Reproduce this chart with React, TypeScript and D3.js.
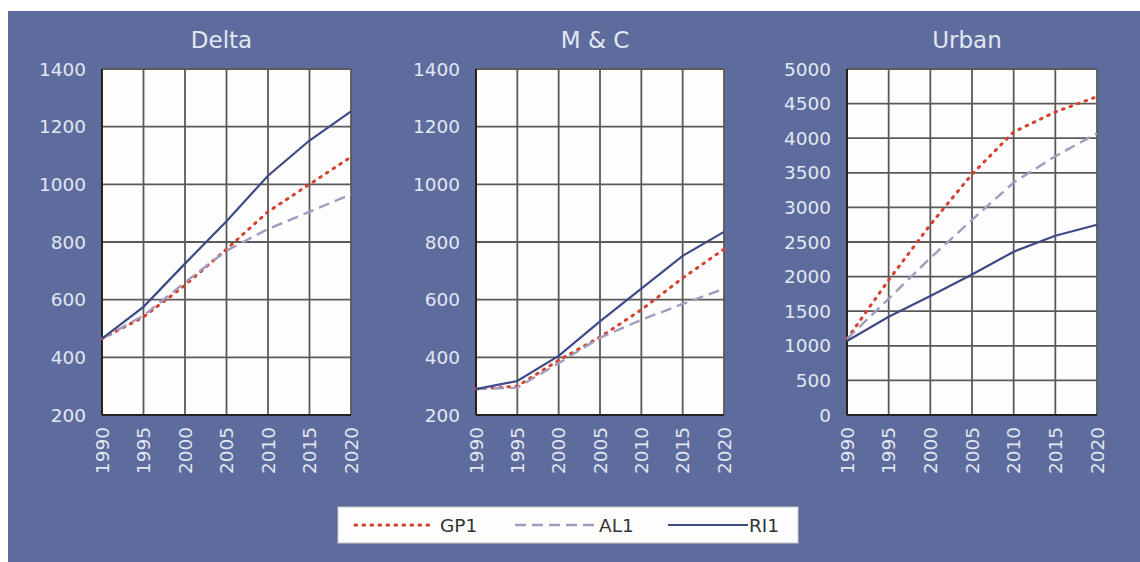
import React from "react";
import * as d3 from "d3";

const years = [1990, 1995, 2000, 2005, 2010, 2015, 2020];

const panelTitles = ["Delta", "M & C", "Urban"];

// Delta
const deltaGP1 = [465, 540, 650, 775, 905, 1000, 1095];
const deltaAL1 = [465, 545, 660, 770, 845, 905, 965];
const deltaRI1 = [465, 575, 725, 872, 1030, 1152, 1253];

// M & C
const mcGP1 = [290, 300, 390, 470, 565, 675, 775];
const mcAL1 = [290, 295, 380, 468, 530, 585, 638];
const mcRI1 = [290, 318, 405, 525, 638, 752, 835];

// Urban
const urbanGP1 = [1100, 1950, 2750, 3480, 4090, 4380, 4600];
const urbanAL1 = [1100, 1680, 2270, 2820, 3360, 3740, 4070];
const urbanRI1 = [1070, 1420, 1720, 2030, 2360, 2590, 2750];

const yTicksSmall = [200, 400, 600, 800, 1000, 1200, 1400];
const yTicksUrban = [0, 500, 1000, 1500, 2000, 2500, 3000, 3500, 4000, 4500, 5000];

const seriesNames = ["GP1", "AL1", "RI1"];
const seriesColors = ["#d6402c", "#a19cbc", "#3d4a86"];
const seriesDash = ["1.6 6.4", "11 6", null];
const seriesWidth = [3, 2.4, 2.2];

const FONT = "'DejaVu Sans', sans-serif";
const BG = "#5d6c9c";
const LABEL = "#e2e7f3";
const TICK_SIZE = 18.5;

type Panel = {
  title: string;
  left: number;
  right: number;
  domain: [number, number];
  ticks: number[];
  series: number[][];
};

const panels: Panel[] = [
  { title: panelTitles[0], left: 102, right: 351, domain: [200, 1400], ticks: yTicksSmall, series: [deltaGP1, deltaAL1, deltaRI1] },
  { title: panelTitles[1], left: 476, right: 724, domain: [200, 1400], ticks: yTicksSmall, series: [mcGP1, mcAL1, mcRI1] },
  { title: panelTitles[2], left: 847, right: 1097, domain: [0, 5000], ticks: yTicksUrban, series: [urbanGP1, urbanAL1, urbanRI1] },
];

const TOP = 69;
const BOTTOM = 415;

function PanelChart({ p }: { p: Panel }) {
  const x = d3.scaleLinear().domain([1990, 2020]).range([p.left, p.right]);
  const y = d3.scaleLinear().domain(p.domain).range([BOTTOM, TOP]);
  const line = d3
    .line<number>()
    .x((_, i) => x(years[i]))
    .y((v) => y(v));
  const cx = (p.left + p.right) / 2 - 5;
  return (
    <g>
      <text x={cx} y={48} textAnchor="middle" fontFamily={FONT} fontSize={23} fill={LABEL}>
        {p.title}
      </text>
      <rect x={p.left} y={TOP} width={p.right - p.left} height={BOTTOM - TOP} fill="#fdfdfd" />
      {p.ticks.map((t) => (
        <line key={"h" + t} x1={p.left} x2={p.right} y1={y(t)} y2={y(t)} stroke="#5a5a5a" strokeWidth={1.8} />
      ))}
      {years.map((yr) => (
        <line key={"v" + yr} x1={x(yr)} x2={x(yr)} y1={TOP} y2={BOTTOM} stroke="#5a5a5a" strokeWidth={1.8} />
      ))}
      <line x1={p.left} x2={p.left} y1={TOP} y2={BOTTOM} stroke="#222" strokeWidth={2} />
      <line x1={p.left} x2={p.right} y1={BOTTOM} y2={BOTTOM} stroke="#222" strokeWidth={2} />
      {p.series.map((s, i) => (
        <path
          key={seriesNames[i]}
          d={line(s) || ""}
          fill="none"
          stroke={seriesColors[i]}
          strokeWidth={seriesWidth[i]}
          strokeDasharray={seriesDash[i] || undefined}
          strokeLinecap={i === 0 ? "round" : "butt"}
        />
      ))}
      {p.ticks.map((t) => (
        <text key={"yt" + t} x={p.left - 16} y={y(t)} dy="0.36em" textAnchor="end" fontFamily={FONT} fontSize={TICK_SIZE} fill={LABEL}>
          {t}
        </text>
      ))}
      {years.map((yr) => (
        <text
          key={"xt" + yr}
          transform={`translate(${x(yr)},${BOTTOM + 12}) rotate(-90)`}
          dy="0.36em"
          textAnchor="end"
          fontFamily={FONT}
          fontSize={TICK_SIZE}
          fill={LABEL}
        >
          {yr}
        </text>
      ))}
    </g>
  );
}

export default function App() {
  const legendItems = [
    { x1: 355, x2: 431, tx: 440 },
    { x1: 515, x2: 598, tx: 599 },
    { x1: 668, x2: 748, tx: 749 },
  ];
  return (
    <svg width={1140} height={562} style={{ position: "absolute", left: 0, top: 0 }}>
      <rect x={0} y={0} width={1140} height={562} fill="#ffffff" />
      <rect x={8} y={11} width={1132} height={551} fill={BG} />
      {panels.map((p) => (
        <PanelChart key={p.title} p={p} />
      ))}
      <rect x={338} y={507} width={460} height={36} fill="#fdfdfd" stroke="#c8c8c8" strokeWidth={1} />
      {legendItems.map((it, i) => (
        <g key={seriesNames[i]}>
          <line
            x1={it.x1}
            x2={it.x2}
            y1={525}
            y2={525}
            stroke={seriesColors[i]}
            strokeWidth={seriesWidth[i]}
            strokeDasharray={seriesDash[i] || undefined}
            strokeLinecap={i === 0 ? "round" : "butt"}
          />
          <text x={it.tx} y={525} dy="0.36em" fontFamily={FONT} fontSize={18.5} fill="#333">
            {seriesNames[i]}
          </text>
        </g>
      ))}
    </svg>
  );
}
